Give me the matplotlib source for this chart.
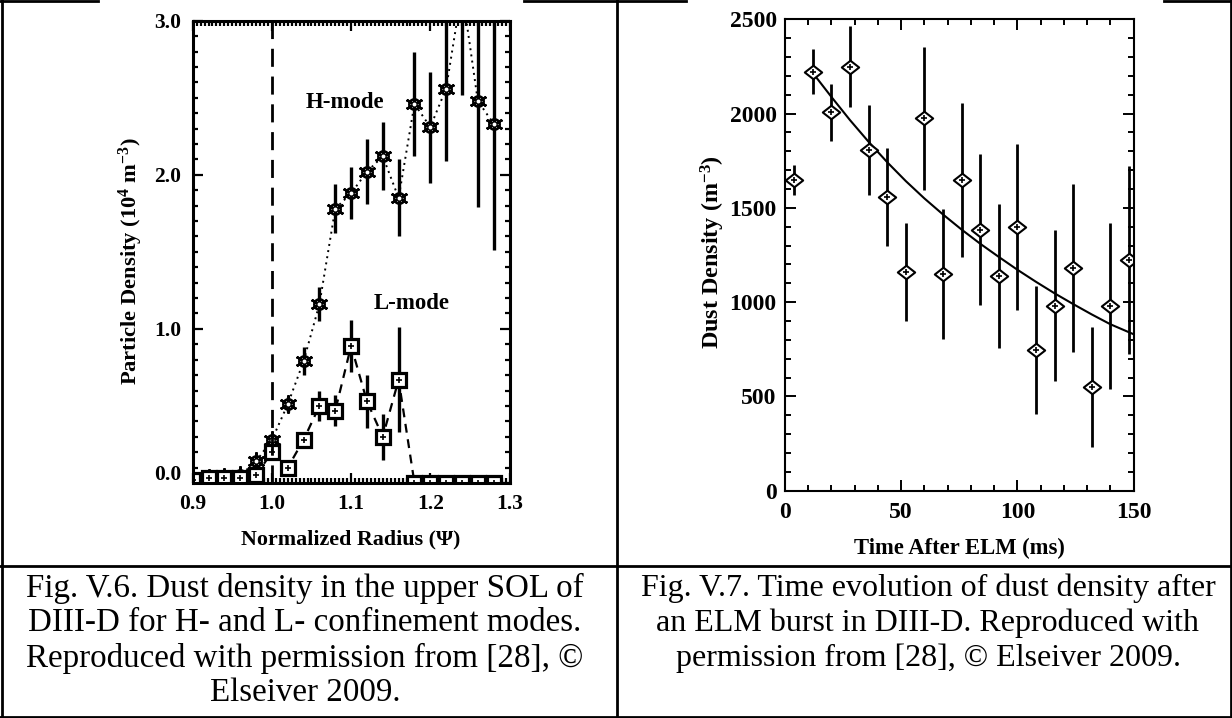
import numpy as np
import matplotlib
matplotlib.use("Agg")
import matplotlib.pyplot as plt
from matplotlib.path import Path
from matplotlib.ticker import MultipleLocator
from matplotlib.transforms import ScaledTranslation
from matplotlib.lines import Line2D

plt.rcParams['font.family'] = ['Liberation Serif', 'DejaVu Serif']
plt.rcParams['font.weight'] = 'bold'

# ---------------- Data: left panel (Fig. V.6) ----------------
radius = [0.90, 0.92, 0.94, 0.96, 0.98, 1.00, 1.02, 1.04, 1.06, 1.08, 1.10,
          1.12, 1.14, 1.16, 1.18, 1.20, 1.22, 1.24, 1.26, 1.28]
h_mode = [0.02, 0.03, 0.04, 0.05, 0.14, 0.28, 0.51, 0.79, 1.16, 1.78, 1.88,
          2.02, 2.12, 1.85, 2.46, 2.31, 2.56, 3.20, 2.48, 2.33]
h_err = [0.01, 0.01, 0.01, 0.02, 0.03, 0.04, 0.05, 0.09, 0.11, 0.16, 0.17,
         0.21, 0.22, 0.25, 0.34, 0.36, 0.47, 0.68, 0.69, 0.82]
l_mode = [0.02, 0.03, 0.03, 0.03, 0.05, 0.20, 0.10, 0.28, 0.50, 0.47, 0.89,
          0.53, 0.30, 0.67, 0.0, 0.0, 0.0, 0.0, 0.0, 0.0]
l_err = [0.01, 0.01, 0.01, 0.01, 0.02, 0.04, 0.03, 0.05, 0.10, 0.10, 0.17,
         0.17, 0.15, 0.34, 0.0, 0.0, 0.0, 0.0, 0.0, 0.0]
sep_radius = 1.0
left_xticks = [0.9, 1.0, 1.1, 1.2, 1.3]
left_xticklabels = ['0.9', '1.0', '1.1', '1.2', '1.3']
left_yticks = [0.0, 1.0, 2.0, 3.0]
left_yticklabels = ['0.0', '1.0', '2.0', '3.0']

# ---------------- Data: right panel (Fig. V.7) ----------------
time_ms = [4, 12, 20, 28, 36, 44, 52, 60, 68, 76, 84, 92, 100, 108, 116, 124,
           132, 140, 148]
dust = [1648, 2222, 2007, 2249, 1807, 1556, 1162, 1975, 1148, 1648, 1383,
        1139, 1400, 747, 980, 1180, 548, 980, 1224]
dust_err = [80, 120, 150, 215, 240, 260, 260, 380, 345, 410, 400, 380, 440,
            340, 400, 447, 318, 440, 500]
fit_t = [12, 20, 28, 36, 44, 52, 60, 68, 76, 84, 92, 100, 108, 116, 124, 132,
         140, 150]
fit_y = [2215, 2088, 1965, 1850, 1742, 1642, 1550, 1465, 1385, 1310, 1240,
         1172, 1108, 1047, 990, 935, 883, 830]
right_xticks = [0, 50, 100, 150]
right_yticks = [0, 500, 1000, 1500, 2000, 2500]

caption_left = ["Fig. V.6. Dust density in the upper SOL of",
                "DIII-D for H- and L- confinement modes.",
                "Reproduced with permission from [28], \u00a9",
                "Elseiver 2009."]
caption_right = ["Fig. V.7. Time evolution of dust density after",
                 "an ELM burst in DIII-D. Reproduced with",
                 "permission from [28], \u00a9 Elseiver 2009."]

W, H = 1232, 718
fig = plt.figure(figsize=(W / 100, H / 100), dpi=100)


def px_axes(x0, y0, x1, y1):
    return fig.add_axes([x0 / W, 1 - y1 / H, (x1 - x0) / W, (y1 - y0) / H])


# ---------------- Left panel ----------------
ax1 = px_axes(192.7, 20.7, 509.5, 483)
ax1.errorbar(radius, h_mode, yerr=h_err, fmt='none', ecolor='black',
             elinewidth=2.4, capsize=0)
ax1.errorbar(radius, l_mode, yerr=l_err, fmt='none', ecolor='black',
             elinewidth=2.4, capsize=0)
ax1.plot(radius, h_mode, linestyle=(0, (1, 2.2)), color='black', lw=1.4)
ax1.plot(radius, l_mode, linestyle=(0, (4, 3)), color='black', lw=1.6)
ax1.plot(radius, h_mode, marker=(6, 2, 0), ms=13, mec='black', mew=1.8,
         ls='none')
ax1.plot(radius, h_mode, 'o', ms=7.5, mfc='none', mec='black', mew=1.8,
         ls='none')
ax1.plot(radius, h_mode, 'o', ms=2.8, mfc='white', mec='white', mew=0,
         ls='none')
ax1.plot(radius, l_mode, 's', ms=10, mfc='white', mec='black', mew=2.3,
         ls='none')
ax1.plot(radius, l_mode, '+', ms=4, mec='black', mew=1.2, ls='none')
ax1.axvline(sep_radius, color='black', lw=2.0, dashes=(6.5, 3.5))
ax1.text(1.092, 2.47, 'H-mode', ha='center', va='center', fontsize=16.5,
         fontweight='bold')
ax1.text(1.1765, 1.165, 'L-mode', ha='center', va='center', fontsize=16.5,
         fontweight='bold')
ax1.set_xlim(0.9, 1.3)
ax1.set_ylim(0.0, 3.0)
ax1.set_xticks(left_xticks)
ax1.set_xticklabels(left_xticklabels)
ax1.set_yticks(left_yticks)
ax1.set_yticklabels(left_yticklabels)
ax1.xaxis.set_minor_locator(MultipleLocator(0.005))
ax1.yaxis.set_minor_locator(MultipleLocator(0.1))
ax1.tick_params(which='both', direction='in', top=True, right=True,
                width=1.6, labelsize=15.5, colors='black')
ax1.tick_params(which='major', length=7)
ax1.tick_params(which='minor', length=3.5)
ax1.tick_params(axis='y', pad=8)
ax1.tick_params(axis='x', pad=8)
for lab in ax1.get_xticklabels() + ax1.get_yticklabels():
    lab.set_fontweight('bold')
for sp in ax1.spines.values():
    sp.set_linewidth(2.2)
ax1.set_xlabel('Normalized Radius (\u03a8)', fontsize=15.8, fontweight='bold')
ax1.set_ylabel('Particle Density (10$\\mathregular{^{4}}$ m$\\mathregular{^{-3}}$)',
               fontsize=16.2, fontweight='bold')
ax1.xaxis.set_label_coords(0.5, -0.100)
ax1.yaxis.set_label_coords(-0.149, 0.48)
# the "0.0" label sits a little above the bottom edge in the original
zero_tick = ax1.yaxis.get_major_ticks()[0]
zero_tick.label1.set_transform(zero_tick.label1.get_transform() +
                               ScaledTranslation(0, 11 / 100, fig.dpi_scale_trans))

# ---------------- Right panel ----------------
ax2 = px_axes(785, 19.3, 1133.5, 490.7)
diamond = Path([(-1, 0), (0, 0.78), (1, 0), (0, -0.78), (-1, 0)],
               [Path.MOVETO, Path.LINETO, Path.LINETO, Path.LINETO, Path.CLOSEPOLY])
ax2.errorbar(time_ms, dust, yerr=dust_err, fmt='none', ecolor='black',
             elinewidth=2.0, capsize=0)
ax2.plot(fit_t, fit_y, color='black', lw=1.5)
ax2.plot(time_ms, dust, marker=diamond, ms=12.5, mfc='white', mec='black',
         mew=1.5, ls='none')
ax2.plot(time_ms, dust, '+', ms=4, mec='black', mew=1.2, ls='none')
ax2.set_xlim(0, 150)
ax2.set_ylim(0, 2500)
ax2.set_xticks(right_xticks)
ax2.set_yticks(right_yticks)
ax2.xaxis.set_minor_locator(MultipleLocator(10))
ax2.yaxis.set_minor_locator(MultipleLocator(100))
ax2.tick_params(which='both', direction='in', top=True, right=True,
                width=1.4, labelsize=17, colors='black')
ax2.tick_params(which='major', length=8)
ax2.tick_params(which='minor', length=4)
ax2.tick_params(axis='y', pad=6)
ax2.tick_params(axis='x', pad=8)
for lab in ax2.get_xticklabels() + ax2.get_yticklabels():
    lab.set_fontweight('bold')
for sp in ax2.spines.values():
    sp.set_linewidth(1.5)
ax2.set_xlabel('Time After ELM (ms)', fontsize=16.3, fontweight='bold')
ax2.set_ylabel('Dust Density (m$\\mathregular{^{-3}}$)', fontsize=17.4,
               fontweight='bold')
ax2.xaxis.set_label_coords(0.5, -0.100)
ax2.yaxis.set_label_coords(-0.166, 0.506)

# ---------------- Table frame and captions ----------------
def hline(y, x0, x1, lw=2.0):
    fig.add_artist(Line2D([x0 / W, x1 / W], [1 - y / H, 1 - y / H],
                          color='black', lw=lw, transform=fig.transFigure))


def vline(x, y0, y1, lw=2.0):
    fig.add_artist(Line2D([x / W, x / W], [1 - y0 / H, 1 - y1 / H],
                          color='black', lw=lw, transform=fig.transFigure))


hline(1, 0, 98)
hline(1, 524, 686)
hline(1, 1164, W)
hline(566, 0, W)
hline(716.5, 0, W)
vline(1.5, 0, H)
vline(617, 0, 717)
vline(1230.5, 0, H)

for i, line in enumerate(caption_left):
    fig.text(305 / W, 1 - (588 + 35 * i) / H, line, ha='center', va='center',
             fontsize=23.8, fontweight='normal', family='Liberation Serif')
for i, line in enumerate(caption_right):
    fig.text(928 / W, 1 - (588 + 35 * i) / H, line, ha='center', va='center',
             fontsize=23.0, fontweight='normal', family='Liberation Serif')

fig.savefig('out.png', dpi=100)
